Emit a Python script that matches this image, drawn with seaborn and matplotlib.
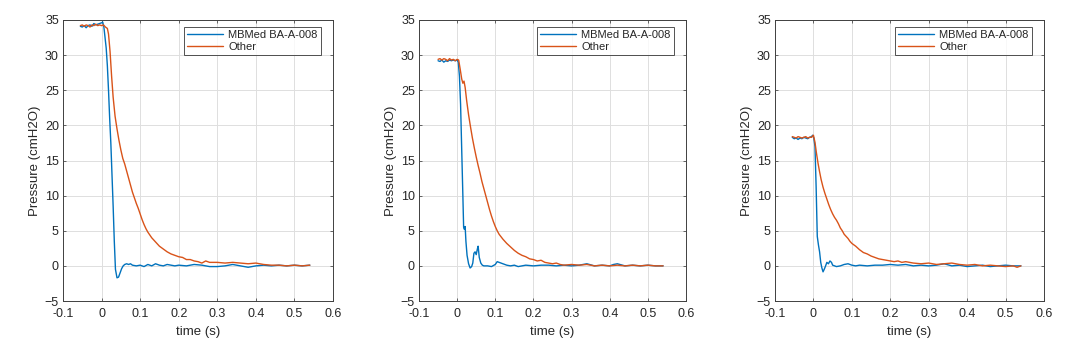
import numpy as np
import pandas as pd
import matplotlib
matplotlib.use("Agg")
import matplotlib.pyplot as plt
import seaborn as sns

# (time s, pressure cmH2O)
p1_blue = [(-0.055, 34.1), (-0.05, 34.0), (-0.045, 34.2), (-0.04, 33.9), (-0.035, 34.2),
           (-0.03, 34.3), (-0.025, 34.1), (-0.02, 34.5), (-0.015, 34.3), (-0.01, 34.4),
           (-0.005, 34.5), (0.0, 34.6), (0.003, 34.7), (0.006, 34.0), (0.009, 32.5),
           (0.012, 31.0), (0.015, 28.5), (0.018, 25.0), (0.021, 21.0), (0.024, 17.5),
           (0.027, 13.0), (0.030, 8.5), (0.033, 3.5), (0.036, -0.5), (0.040, -1.7),
           (0.044, -1.6), (0.048, -1.0), (0.052, -0.4), (0.056, 0.0), (0.060, 0.2),
           (0.065, 0.3), (0.070, 0.2), (0.075, 0.3), (0.080, 0.1), (0.090, 0.0),
           (0.100, 0.1), (0.110, -0.1), (0.120, 0.2), (0.130, 0.0), (0.140, 0.3),
           (0.150, 0.1), (0.160, 0.0), (0.170, 0.2), (0.180, 0.1), (0.190, 0.0),
           (0.200, 0.1), (0.220, 0.0), (0.240, 0.2), (0.260, 0.1), (0.280, -0.1),
           (0.300, -0.1), (0.320, 0.0), (0.340, 0.2), (0.360, 0.0), (0.380, -0.2),
           (0.400, 0.0), (0.420, 0.1), (0.440, 0.0), (0.460, 0.1), (0.480, 0.0),
           (0.500, 0.1), (0.520, 0.0), (0.540, 0.1)]
p1_orange = [(-0.055, 34.2), (-0.05, 34.3), (-0.045, 34.1), (-0.04, 34.3), (-0.035, 34.2),
             (-0.03, 34.0), (-0.025, 34.3), (-0.02, 34.2), (-0.015, 34.4), (-0.01, 34.2),
             (-0.005, 34.3), (0.0, 34.2), (0.005, 34.3), (0.010, 34.0), (0.015, 33.8),
             (0.018, 33.0), (0.022, 30.5), (0.026, 27.0), (0.030, 24.0), (0.035, 21.3),
             (0.040, 19.5), (0.045, 17.9), (0.050, 16.5), (0.055, 15.3), (0.060, 14.5),
             (0.065, 13.5), (0.070, 12.5), (0.075, 11.5), (0.080, 10.5), (0.085, 9.7),
             (0.090, 8.9), (0.095, 8.2), (0.100, 7.4), (0.105, 6.6), (0.110, 5.9),
             (0.115, 5.3), (0.120, 4.8), (0.125, 4.4), (0.130, 4.0), (0.140, 3.4),
             (0.150, 2.8), (0.160, 2.4), (0.170, 2.0), (0.180, 1.7), (0.190, 1.5),
             (0.200, 1.3), (0.210, 1.2), (0.220, 0.9), (0.230, 0.9), (0.240, 0.7),
             (0.250, 0.6), (0.260, 0.4), (0.270, 0.7), (0.280, 0.5), (0.300, 0.5),
             (0.320, 0.4), (0.340, 0.5), (0.360, 0.4), (0.380, 0.3), (0.400, 0.4),
             (0.420, 0.2), (0.440, 0.1), (0.460, 0.1), (0.480, 0.0), (0.500, 0.1),
             (0.520, 0.0), (0.540, 0.1)]

p2_blue = [(-0.05, 29.2), (-0.045, 29.1), (-0.04, 29.3), (-0.035, 29.0), (-0.03, 29.2),
           (-0.025, 29.1), (-0.02, 29.3), (-0.015, 29.2), (-0.01, 29.3), (-0.005, 29.2),
           (0.0, 29.3), (0.003, 29.0), (0.006, 27.0), (0.009, 23.0), (0.012, 16.5),
           (0.015, 10.0), (0.017, 5.5), (0.019, 5.2), (0.021, 5.6), (0.023, 3.5),
           (0.026, 1.5), (0.030, 0.3), (0.034, -0.3), (0.038, -0.1), (0.041, 0.4),
           (0.044, 1.8), (0.047, 2.0), (0.050, 1.6), (0.053, 2.4), (0.055, 2.8),
           (0.058, 1.2), (0.062, 0.4), (0.066, 0.1), (0.070, 0.0), (0.080, 0.0),
           (0.090, -0.1), (0.100, 0.2), (0.105, 0.6), (0.110, 0.5), (0.120, 0.3),
           (0.130, 0.1), (0.140, 0.0), (0.150, 0.1), (0.160, -0.1), (0.170, 0.0),
           (0.180, 0.1), (0.200, 0.0), (0.220, 0.1), (0.240, 0.1), (0.260, 0.0),
           (0.280, 0.1), (0.300, 0.0), (0.320, 0.1), (0.340, 0.3), (0.360, 0.0),
           (0.380, 0.1), (0.400, 0.0), (0.410, 0.2), (0.420, 0.3), (0.440, 0.0),
           (0.460, 0.1), (0.480, 0.0), (0.500, 0.1), (0.520, 0.0), (0.540, 0.0)]
p2_orange = [(-0.05, 29.4), (-0.045, 29.5), (-0.04, 29.3), (-0.035, 29.5), (-0.03, 29.4),
             (-0.025, 29.2), (-0.02, 29.5), (-0.015, 29.3), (-0.01, 29.4), (-0.005, 29.2),
             (0.0, 29.4), (0.004, 29.3), (0.008, 28.0), (0.012, 26.6), (0.015, 26.0),
             (0.018, 26.3), (0.021, 25.4), (0.025, 23.5), (0.030, 21.5), (0.035, 19.8),
             (0.040, 18.2), (0.045, 16.8), (0.050, 15.5), (0.055, 14.3), (0.060, 13.2),
             (0.065, 12.0), (0.070, 11.0), (0.075, 10.0), (0.080, 9.0), (0.085, 8.0),
             (0.090, 7.1), (0.095, 6.3), (0.100, 5.6), (0.105, 5.0), (0.110, 4.5),
             (0.120, 3.8), (0.130, 3.2), (0.140, 2.7), (0.150, 2.2), (0.160, 1.8),
             (0.170, 1.5), (0.180, 1.3), (0.190, 1.0), (0.200, 0.9), (0.210, 0.7),
             (0.220, 0.8), (0.230, 0.5), (0.240, 0.4), (0.250, 0.3), (0.260, 0.4),
             (0.270, 0.2), (0.280, 0.1), (0.300, 0.2), (0.320, 0.1), (0.340, 0.2),
             (0.360, 0.0), (0.380, 0.1), (0.400, 0.0), (0.420, 0.1), (0.440, 0.0),
             (0.460, 0.1), (0.480, 0.0), (0.500, 0.1), (0.520, 0.0), (0.540, 0.0)]

p3_blue = [(-0.055, 18.3), (-0.05, 18.1), (-0.045, 18.2), (-0.04, 18.0), (-0.035, 18.2),
           (-0.03, 18.1), (-0.025, 18.3), (-0.02, 18.2), (-0.015, 18.1), (-0.01, 18.3),
           (-0.005, 18.4), (-0.002, 18.6), (0.001, 18.2), (0.004, 17.0), (0.007, 11.3),
           (0.010, 4.2), (0.013, 3.0), (0.016, 2.0), (0.019, 0.5), (0.022, -0.3),
           (0.025, -0.85), (0.028, -0.5), (0.031, -0.1), (0.035, 0.5), (0.039, 0.3),
           (0.043, 0.7), (0.047, 0.5), (0.050, 0.1), (0.055, 0.0), (0.060, -0.1),
           (0.070, 0.0), (0.080, 0.2), (0.090, 0.3), (0.100, 0.1), (0.110, 0.0),
           (0.120, 0.1), (0.140, 0.0), (0.160, 0.1), (0.180, 0.1), (0.200, 0.2),
           (0.220, 0.1), (0.240, 0.2), (0.260, 0.0), (0.280, 0.1), (0.300, 0.0),
           (0.320, 0.1), (0.340, 0.3), (0.360, 0.0), (0.380, 0.1), (0.400, -0.1),
           (0.420, 0.0), (0.440, 0.1), (0.460, -0.1), (0.480, 0.0), (0.500, 0.1),
           (0.520, 0.0), (0.540, 0.0)]
p3_orange = [(-0.055, 18.4), (-0.05, 18.3), (-0.045, 18.2), (-0.04, 18.4), (-0.035, 18.3),
             (-0.03, 18.2), (-0.025, 18.3), (-0.02, 18.4), (-0.015, 18.2), (-0.01, 18.3),
             (-0.005, 18.3), (0.0, 18.6), (0.004, 17.6), (0.008, 16.0), (0.012, 14.6),
             (0.016, 13.4), (0.020, 12.3), (0.025, 11.2), (0.030, 10.3), (0.035, 9.5),
             (0.040, 8.7), (0.045, 8.0), (0.050, 7.4), (0.055, 6.9), (0.060, 6.5),
             (0.065, 6.0), (0.070, 5.4), (0.075, 5.0), (0.080, 4.5), (0.085, 4.2),
             (0.090, 3.9), (0.095, 3.5), (0.100, 3.2), (0.110, 2.8), (0.120, 2.3),
             (0.130, 1.9), (0.140, 1.7), (0.150, 1.4), (0.160, 1.2), (0.170, 1.0),
             (0.180, 0.9), (0.190, 0.8), (0.200, 0.7), (0.210, 0.6), (0.220, 0.7),
             (0.230, 0.5), (0.240, 0.6), (0.260, 0.4), (0.280, 0.3), (0.300, 0.4),
             (0.320, 0.2), (0.340, 0.3), (0.360, 0.4), (0.380, 0.2), (0.400, 0.1),
             (0.420, 0.2), (0.440, 0.0), (0.460, 0.1), (0.480, 0.0), (0.500, -0.1),
             (0.520, 0.0), (0.530, -0.2), (0.540, 0.0)]

panels = [(p1_blue, p1_orange), (p2_blue, p2_orange), (p3_blue, p3_orange)]
series_names = ["MBMed BA-A-008", "Other"]
series_colors = ["#0072BD", "#D95319"]
x_ticks = [-0.1, 0, 0.1, 0.2, 0.3, 0.4, 0.5, 0.6]
y_ticks = [-5, 0, 5, 10, 15, 20, 25, 30, 35]

sns.set_theme(style="white")
plt.rcParams['font.family'] = ['Liberation Sans', 'DejaVu Sans']

fig = plt.figure(figsize=(10.7, 3.51), dpi=100)
lefts = [63 / 1070, 419 / 1070, 775 / 1070]
widths = [270 / 1070, 267 / 1070, 269 / 1070]

for i, (blue, orange) in enumerate(panels):
    ax = fig.add_axes([lefts[i], 50 / 351, widths[i], 281 / 351])
    for data, name, col in zip([blue, orange], series_names, series_colors):
        df = pd.DataFrame(data, columns=["t", "p"])
        sns.lineplot(data=df, x="t", y="p", ax=ax, color=col, label=name,
                     linewidth=1.0, estimator=None, sort=False)
    ax.set_xlim(-0.1, 0.6)
    ax.set_ylim(-5, 35)
    ax.set_xticks(x_ticks)
    ax.set_xticklabels([f"{v:g}" for v in x_ticks])
    ax.set_yticks(y_ticks)
    ax.grid(True, color="#dedede", linewidth=0.7)
    ax.tick_params(direction="in", length=2.5, width=0.6, labelsize=9,
                   colors="#4d4d4d", labelcolor="#262626",
                   top=True, right=True, bottom=True, left=True)
    ax.tick_params(axis="x", pad=5)
    ax.tick_params(axis="y", pad=3)
    for s in ax.spines.values():
        s.set_color("#404040")
        s.set_linewidth(0.7)
    ax.set_xlabel("time (s)", fontsize=9.5, color="#262626", labelpad=4)
    ax.set_ylabel("Pressure (cmH2O)", fontsize=9.5, color="#262626", labelpad=3)
    leg = ax.legend(loc="upper right", bbox_to_anchor=(0.955, 0.975), fontsize=8,
                    frameon=True, fancybox=False, borderpad=0.3, labelspacing=0.15,
                    handlelength=3.2, handletextpad=0.5, borderaxespad=0)
    leg.get_frame().set_edgecolor("#262626")
    leg.get_frame().set_linewidth(0.7)

fig.savefig("out.png", dpi=100)
